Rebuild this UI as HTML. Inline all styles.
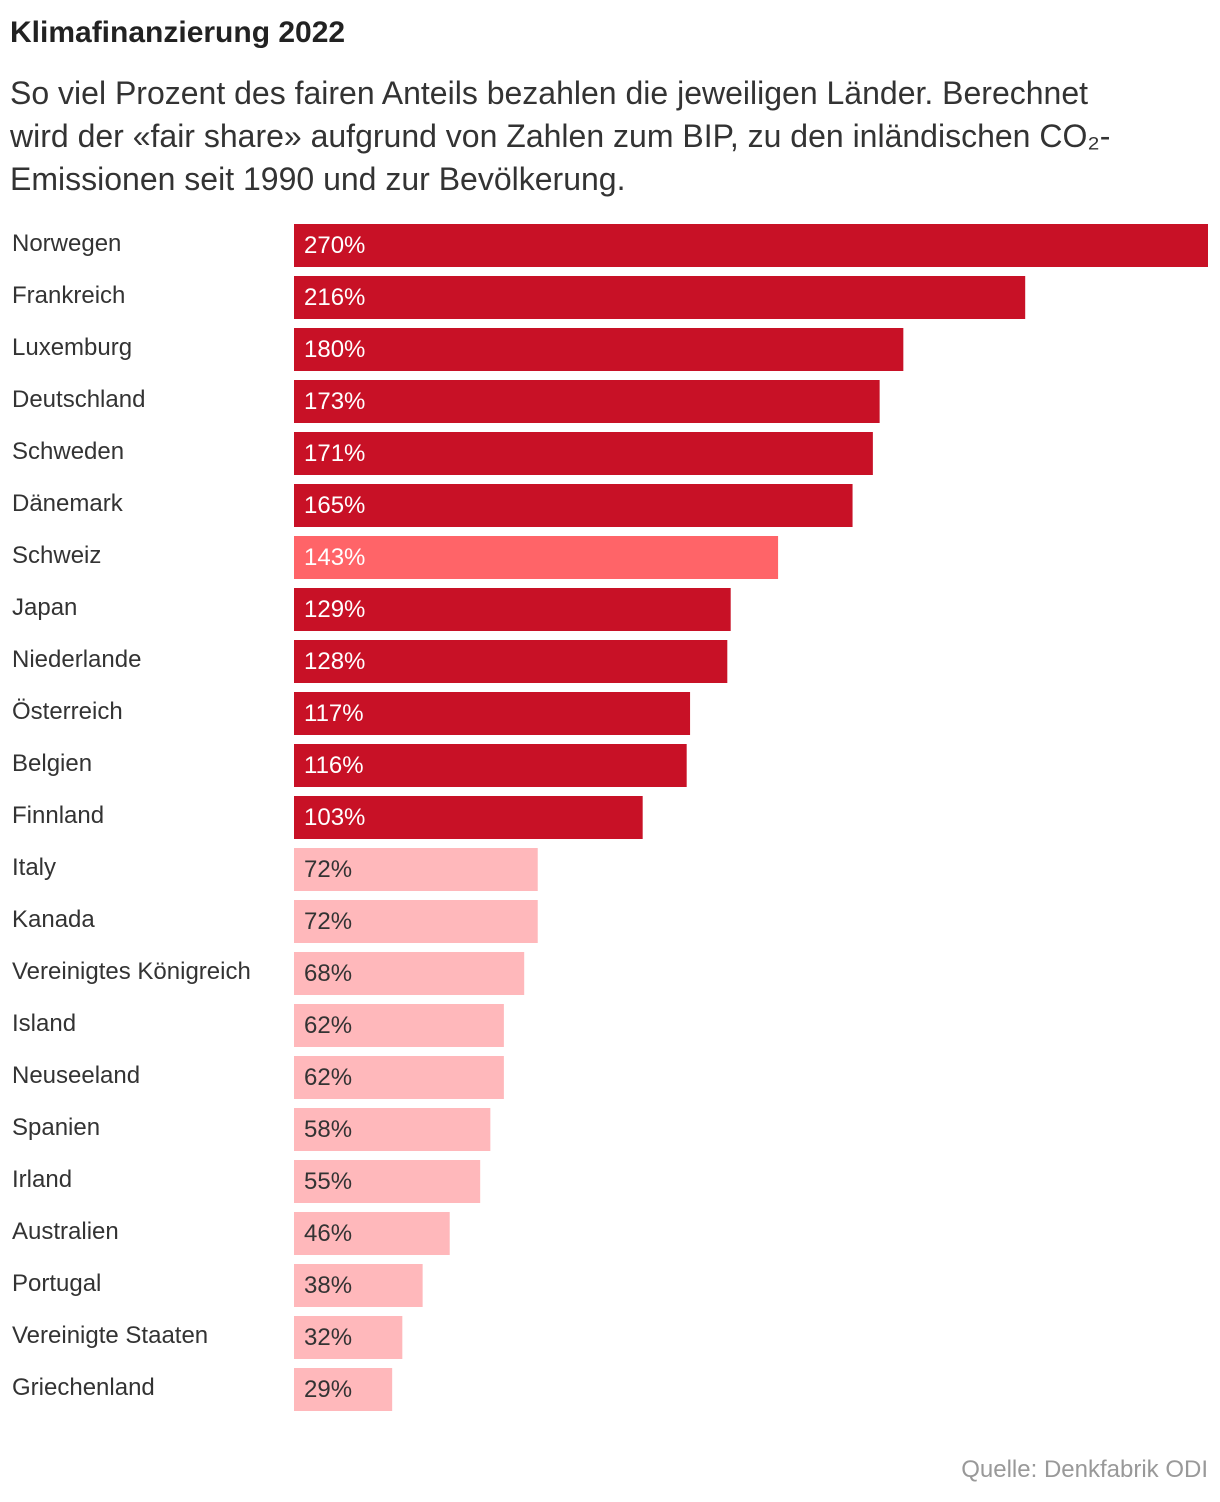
<!DOCTYPE html>
<html lang="de">
<head>
<meta charset="utf-8">
<style>
  html,body{margin:0;padding:0;background:#fff;}
  body{width:1220px;height:1502px;position:relative;overflow:hidden;font-family:"Liberation Sans",sans-serif;color:#222;}
  #title{position:absolute;left:10px;top:16px;font-size:30px;font-weight:bold;color:#222;margin:0;}
  #subtitle{position:absolute;left:10px;top:72px;width:1210px;font-size:32px;line-height:43px;color:#333;margin:0;white-space:nowrap;}
  #source{position:absolute;right:12px;top:1456px;font-size:24px;color:#999;}
  svg{position:absolute;left:0;top:0;}
</style>
</head>
<body>
<h1 id="title">Klimafinanzierung 2022</h1>
<p id="subtitle">So viel Prozent des fairen Anteils bezahlen die jeweiligen Länder. Berechnet<br>wird der «fair share» aufgrund von Zahlen zum BIP, zu den inländischen CO₂-<br>Emissionen seit 1990 und zur Bevölkerung.</p>
<svg id="chart" width="1220" height="1502"></svg>
<div id="source">Quelle: Denkfabrik ODI</div>
<script>
const countries = ["Norwegen","Frankreich","Luxemburg","Deutschland","Schweden","Dänemark","Schweiz","Japan","Niederlande","Österreich","Belgien","Finnland","Italy","Kanada","Vereinigtes Königreich","Island","Neuseeland","Spanien","Irland","Australien","Portugal","Vereinigte Staaten","Griechenland"];
const values = [270,216,180,173,171,165,143,129,128,117,116,103,72,72,68,62,62,58,55,46,38,32,29];
const highlight = ["Schweiz"];

const svg = document.getElementById('chart');
const NS = 'http://www.w3.org/2000/svg';
const x0 = 294, x1 = 1208, maxV = Math.max(...values);
const xScale = v => (v / maxV) * (x1 - x0);
const yTop = 224, step = 52, barH = 43;
const yScale = i => yTop + i * step;

countries.forEach((c, i) => {
  const v = values[i];
  const y = yScale(i);
  const color = highlight.includes(c) ? '#ff6468' : (v >= 100 ? '#c81126' : '#ffb8bb');
  const txtColor = v >= 100 ? '#fff' : '#333';

  const lab = document.createElementNS(NS, 'text');
  
  
  lab.setAttribute('x', 12);
  lab.setAttribute('y', y + 27);
  lab.setAttribute('font-size', '24');
  lab.setAttribute('fill', '#333');
  lab.setAttribute('font-family', 'Liberation Sans, sans-serif');
  lab.textContent = c;
  svg.appendChild(lab);

  const r = document.createElementNS(NS, 'rect');
  
  
  r.setAttribute('x', x0);
  r.setAttribute('y', y);
  r.setAttribute('width', xScale(v));
  r.setAttribute('height', barH);
  r.setAttribute('fill', color);
  svg.appendChild(r);

  const t = document.createElementNS(NS, 'text');
  
  
  t.setAttribute('x', x0 + 10);
  t.setAttribute('y', y + 29);
  t.setAttribute('font-size', '24');
  t.setAttribute('fill', txtColor);
  t.setAttribute('font-family', 'Liberation Sans, sans-serif');
  t.textContent = v + '%';
  svg.appendChild(t);
});
</script>
</body>
</html>
